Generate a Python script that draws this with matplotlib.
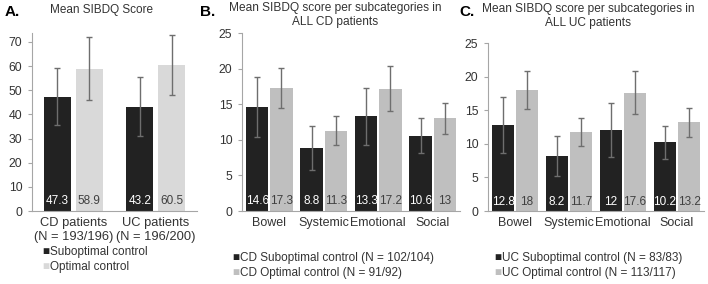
import matplotlib
matplotlib.use("Agg")
import matplotlib.pyplot as plt
import numpy as np

plt.rcParams['font.family'] = ['Liberation Sans', 'DejaVu Sans']

# panel A
a_groups = ['CD patients\n(N = 193/196)', 'UC patients\n(N = 196/200)']
a_sub = [47.3, 43.2]
a_opt = [58.9, 60.5]
a_sub_err = [11.8, 12.1]
a_opt_err = [13.0, 12.5]

# panels B and C
sub_cats = ['Bowel', 'Systemic', 'Emotional', 'Social']
cd_sub = [14.6, 8.8, 13.3, 10.6]
cd_opt = [17.3, 11.3, 17.2, 13]
cd_sub_err = [4.2, 3.1, 4.0, 2.5]
cd_opt_err = [2.8, 2.1, 3.2, 2.2]
uc_sub = [12.8, 8.2, 12, 10.2]
uc_opt = [18, 11.7, 17.6, 13.2]
uc_sub_err = [4.2, 3.0, 4.0, 2.4]
uc_opt_err = [2.8, 2.1, 3.2, 2.2]

DARK = '#222222'
GREY_TXT = '#404040'
AXC = '#a6a6a6'

W, H = 708, 284
fig = plt.figure(figsize=(W/100, H/100), dpi=100)


def box(l, t, r, b):
    return [l/W, (H-b)/H, (r-l)/W, (b-t)/H]


def style(ax, ymax, step):
    ax.set_ylim(0, ymax)
    ax.set_yticks(np.arange(0, ymax+0.01, step))
    for s in ['top', 'right']:
        ax.spines[s].set_visible(False)
    for s in ['left', 'bottom']:
        ax.spines[s].set_color(AXC)
        ax.spines[s].set_linewidth(0.8)
    ax.tick_params(axis='y', colors=AXC, labelcolor='#333333', labelsize=8.8, length=3, width=0.8, pad=4)
    ax.tick_params(axis='x', length=0, labelcolor='#333333', pad=4)


def bars(ax, cats, sub, opt, sube, opte, w, gap, light, fs_cat, fs_val):
    x = np.arange(len(cats))
    off = (w + gap)/2
    ax.bar(x-off, sub, w, color=DARK, yerr=sube, ecolor='#6e6e6e',
           error_kw=dict(elinewidth=1.0, capsize=2.5, capthick=1.0))
    ax.bar(x+off, opt, w, color=light, yerr=opte, ecolor='#6e6e6e',
           error_kw=dict(elinewidth=1.0, capsize=2.5, capthick=1.0))
    ymax = ax.get_ylim()[1]
    for i in range(len(cats)):
        ax.text(x[i]-off, ymax*0.02, f'{sub[i]:g}', color='white', ha='center', va='bottom', fontsize=fs_val)
        ax.text(x[i]+off, ymax*0.02, f'{opt[i]:g}', color=GREY_TXT, ha='center', va='bottom', fontsize=fs_val)
    ax.set_xlim(-0.5, len(cats)-0.5)
    ax.set_xticks(x)
    ax.set_xticklabels(cats, fontsize=fs_cat)


def legend_rows(x0, y0, rows, fs):
    for i, (lab, col) in enumerate(rows):
        y = 1 - (y0 + 15*i)/H
        fig.text(x0/W, y, '\u25a0', color=col, fontsize=8.5, va='center', ha='left')
        fig.text((x0+8)/W, y, lab, color='#333333', fontsize=fs, va='center', ha='left')


# A
axA = fig.add_axes(box(32, 33, 197, 211))
style(axA, 73.7, 10)
bars(axA, a_groups, a_sub, a_opt, a_sub_err, a_opt_err, 0.33, 0.06, '#d9d9d9', 9.3, 8.5)
axA.set_ylim(0, 73.7)
for t in axA.get_xticklabels():
    t.set_linespacing(1.3)
fig.text(5/W, 1-12/H, 'A.', fontsize=11, fontweight='bold', va='center')
fig.text(102/W, 1-10/H, 'Mean SIBDQ Score', fontsize=8.5, ha='center', va='center', color='#333333')
legend_rows(42, 252, [('Suboptimal control', DARK), ('Optimal control', '#d9d9d9')], 8.5)

# B
axB = fig.add_axes(box(242, 33, 460, 211))
style(axB, 25, 5)
bars(axB, sub_cats, cd_sub, cd_opt, cd_sub_err, cd_opt_err, 0.41, 0.035, '#bfbfbf', 9, 8.5)
fig.text(200/W, 1-12/H, 'B.', fontsize=11, fontweight='bold', va='center')
fig.text(335/W, 1-15/H, 'Mean SIBDQ score per subcategories in\nALL CD patients', fontsize=8.6,
         ha='center', va='center', color='#333333', linespacing=1.15)
legend_rows(232, 258, [('CD Suboptimal control (N = 102/104)', DARK),
                       ('CD Optimal control (N = 91/92)', '#bfbfbf')], 8.5)

# C
axC = fig.add_axes(box(488, 43, 704, 211))
style(axC, 25, 5)
bars(axC, sub_cats, uc_sub, uc_opt, uc_sub_err, uc_opt_err, 0.41, 0.035, '#bfbfbf', 9, 8.5)
fig.text(459/W, 1-12/H, 'C.', fontsize=11, fontweight='bold', va='center')
fig.text(588/W, 1-16/H, 'Mean SIBDQ score per subcategories in\nALL UC patients', fontsize=8.6,
         ha='center', va='center', color='#333333', linespacing=1.15)
legend_rows(494, 258, [('UC Suboptimal control (N = 83/83)', DARK),
                       ('UC Optimal control (N = 113/117)', '#bfbfbf')], 8.5)

fig.savefig('out.png', dpi=100)
